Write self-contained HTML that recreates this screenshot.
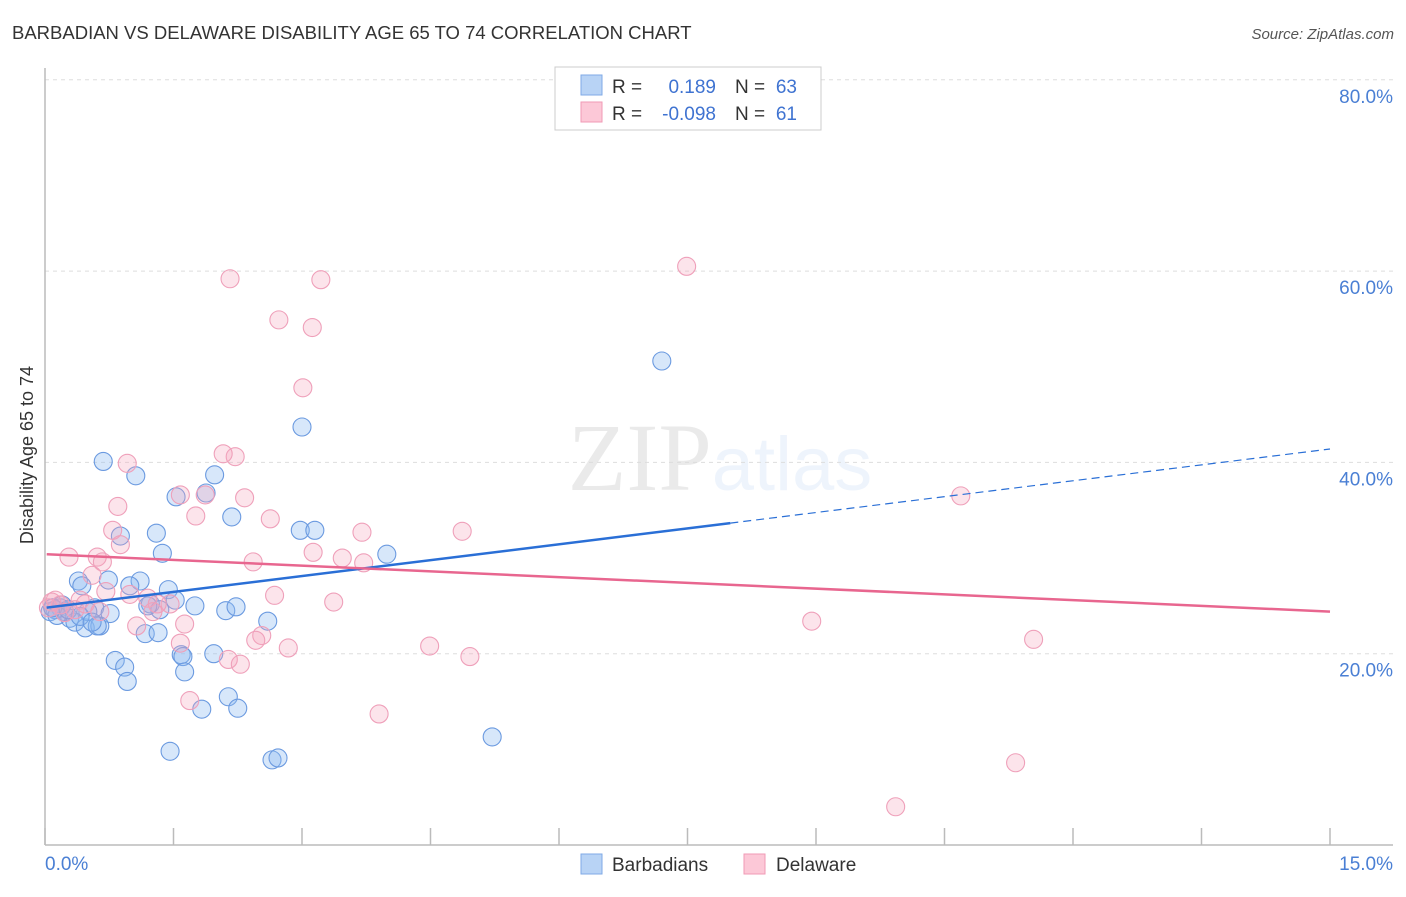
<!DOCTYPE html>
<html><head><meta charset="utf-8"><style>
body{margin:0;background:#fff;font-family:"Liberation Sans",sans-serif;}
</style></head><body>
<svg id="chart" width="1406" height="892" xmlns="http://www.w3.org/2000/svg" font-family="Liberation Sans, sans-serif">
<text x="12" y="39" font-size="18.5" fill="#333">BARBADIAN VS DELAWARE DISABILITY AGE 65 TO 74 CORRELATION CHART</text>
<text x="1394" y="39" font-size="15" fill="#555" text-anchor="end" font-style="italic">Source: ZipAtlas.com</text>
<text x="720" y="490" font-size="96" text-anchor="middle" fill="#000" opacity="0.08" font-family="Liberation Serif, serif">ZIP<tspan fill="#3b7de0" opacity="1" font-family="Liberation Sans, sans-serif" font-size="76">atlas</tspan></text>
<text transform="translate(33,455) rotate(-90)" font-size="18" fill="#333" text-anchor="middle">Disability Age 65 to 74</text>
<g id="grid"></g><g id="axes"></g><g id="pts"></g><g id="trend"></g>
<g>
<rect x="555" y="67" width="266" height="63" fill="#fff" stroke="#ccc"/>
<rect x="581" y="75" width="21" height="20" fill="#b8d3f5" stroke="#7fa9e6"/>
<rect x="581" y="102" width="21" height="20" fill="#fcc8d7" stroke="#f09ab5"/>
<text x="612" y="93" font-size="19" fill="#333">R =</text><text x="716" y="93" font-size="19" fill="#3f73d1" text-anchor="end">0.189</text>
<text x="735" y="93" font-size="19" fill="#333">N =</text><text x="797" y="93" font-size="19" fill="#3f73d1" text-anchor="end">63</text>
<text x="612" y="120" font-size="19" fill="#333">R =</text><text x="716" y="120" font-size="19" fill="#3f73d1" text-anchor="end">-0.098</text>
<text x="735" y="120" font-size="19" fill="#333">N =</text><text x="797" y="120" font-size="19" fill="#3f73d1" text-anchor="end">61</text>
</g>
<g>
<rect x="581" y="854" width="21" height="20" fill="#b8d3f5" stroke="#7fa9e6"/>
<text x="612" y="871" font-size="19" fill="#333">Barbadians</text>
<rect x="744" y="854" width="21" height="20" fill="#fcc8d7" stroke="#f09ab5"/>
<text x="776" y="871" font-size="19" fill="#333">Delaware</text>
</g>
</svg>
<script>
const yTicks=[20,40,60,80];
const yTickLabels=["20.0%","40.0%","60.0%","80.0%"];
const xTicks=[0,1.5,3,4.5,6,7.5,9,10.5,12,13.5,15];
const xEndLabels=["0.0%","15.0%"];
const blueX=[0.68,1.06,0.39,0.43,0.74,1.11,1.44,0.99,0.58,0.76,0.18,0.23,0.29,0.35,0.47,0.64,1.23,1.34,1.52,0.88,1.30,1.37,1.53,1.88,1.98,2.18,2.98,3.15,3.00,3.99,7.20,2.11,2.23,2.60,0.82,0.93,0.96,1.17,1.32,1.59,1.61,1.63,1.97,2.14,1.83,2.25,1.46,2.65,2.72,5.22,0.12,0.06,0.20,0.50,0.61,1.20,1.75,0.14,0.09,0.27,0.41,0.55];
const blueY=[40.1,38.6,27.6,27.1,27.7,27.6,26.7,27.1,24.8,24.2,24.8,24.4,23.7,23.3,22.7,22.9,25.2,24.6,25.6,32.3,32.6,30.5,36.4,36.8,38.7,34.3,32.9,32.9,43.7,30.4,50.6,24.5,24.9,23.4,19.3,18.6,17.1,22.1,22.2,19.9,19.7,18.1,20.0,15.5,14.2,14.3,9.8,8.9,9.1,11.3,24.6,24.4,25.1,24.4,22.9,25.0,25.0,24.0,24.8,24.6,23.9,23.3];
const pinkX=[2.16,3.22,7.49,2.73,3.12,3.01,2.22,2.08,0.96,1.58,1.87,2.33,1.76,0.85,0.79,0.88,0.28,0.61,0.67,0.55,2.63,3.13,3.47,3.70,3.72,4.87,2.43,10.69,0.71,0.41,0.99,1.20,1.46,1.31,2.68,3.37,1.26,1.63,1.07,1.58,2.53,2.46,2.84,2.14,2.28,4.49,4.96,8.95,11.54,1.69,3.90,11.33,9.93,0.12,0.18,0.35,0.04,0.47,0.23,0.64,0.08];
const pinkY=[59.2,59.1,60.5,54.9,54.1,47.8,40.6,40.9,39.9,36.6,36.6,36.3,34.4,35.4,32.9,31.4,30.1,30.1,29.6,28.2,34.1,30.6,30.0,32.7,29.5,32.8,29.6,36.5,26.5,25.6,26.2,25.8,25.2,25.2,26.1,25.4,24.4,23.1,22.9,21.1,21.9,21.4,20.6,19.4,18.9,20.8,19.7,23.4,21.5,15.1,13.7,8.6,4.0,25.6,25.1,24.6,24.8,25.2,24.3,24.4,25.4];
const blueTrend=[24.8,41.4]; const blueSolidEnd=8.0;
const pinkTrend=[30.4,24.4];
const NS="http://www.w3.org/2000/svg";
const xs=v=>45+v*(1330-45)/15;
const ys=v=>845-v*9.565;
function mk(tag,attrs,parent){const e=document.createElementNS(NS,tag);for(const k in attrs)e.setAttribute(k,attrs[k]);document.getElementById(parent).appendChild(e);return e;}
yTicks.forEach((t,i)=>{
  const l=mk('line',{x1:45,x2:1393,y1:ys(t),y2:ys(t),stroke:'#ddd','stroke-dasharray':'4,4'},'grid');
  
  
  const tx=mk('text',{x:1393,y:ys(t)+23,'font-size':19,fill:'#4a7fd4','text-anchor':'end'},'axes');
  tx.textContent=yTickLabels[i];
  
  
});
const ya=mk('line',{x1:45,x2:45,y1:68,y2:845,stroke:'#bbb','stroke-width':1.5},'axes');


const xa=mk('line',{x1:45,x2:1393,y1:845,y2:845,stroke:'#bbb','stroke-width':1.5},'axes');


xTicks.forEach(t=>{
  const l=mk('line',{x1:xs(t),x2:xs(t),y1:828,y2:845,stroke:'#bbb','stroke-width':1.5},'axes');
  
  
});
const xl0=mk('text',{x:45,y:870,'font-size':19,fill:'#4a7fd4'},'axes');xl0.textContent=xEndLabels[0];


const xl1=mk('text',{x:1393,y:870,'font-size':19,fill:'#4a7fd4','text-anchor':'end'},'axes');xl1.textContent=xEndLabels[1];


blueX.forEach((v,i)=>{
  const c=mk('circle',{cx:xs(v),cy:ys(blueY[i]),r:9,fill:'rgba(140,185,240,0.35)',stroke:'#6b9ae0','stroke-width':1.1},'pts');
  
  
});
pinkX.forEach((v,i)=>{
  const c=mk('circle',{cx:xs(v),cy:ys(pinkY[i]),r:9,fill:'rgba(245,165,190,0.3)',stroke:'#efa0ba','stroke-width':1.1},'pts');
  
  
});
const bAt=x=>blueTrend[0]+(blueTrend[1]-blueTrend[0])*x/15;
const b1=mk('line',{x1:xs(0.02),y1:ys(bAt(0.02)),x2:xs(blueSolidEnd),y2:ys(bAt(blueSolidEnd)),stroke:'#2a6fd6','stroke-width':2.5},'trend');


const b2=mk('line',{x1:xs(blueSolidEnd),y1:ys(bAt(blueSolidEnd)),x2:xs(15),y2:ys(bAt(15)),stroke:'#2a6fd6','stroke-width':1.2,'stroke-dasharray':'8,5'},'trend');


const p1=mk('line',{x1:xs(0.02),y1:ys(pinkTrend[0]),x2:xs(15),y2:ys(pinkTrend[1]),stroke:'#e8668f','stroke-width':2.5},'trend');


</script>
</body></html>
